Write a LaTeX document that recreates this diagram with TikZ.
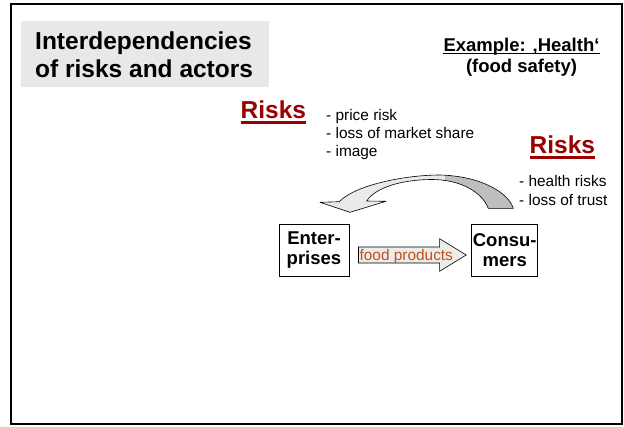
\documentclass[tikz,border=0pt]{standalone}
\usepackage{fontspec}
\setmainfont{Liberation Sans}
\usetikzlibrary{calc}

\definecolor{riskred}{RGB}{153,0,0}
\definecolor{prodbrown}{RGB}{196,80,20}
\definecolor{titlegray}{RGB}{232,232,232}
\definecolor{bandlight}{RGB}{234,234,234}
\definecolor{banddark}{RGB}{190,190,190}

\newcommand{\bandshape}{(513.3,208.3) .. controls (508,192) and (480,176) .. (440,175)
  .. controls (405,175) and (355,185) .. (339.3,201.7) -- (320,202.3) -- (350,212.3)
  -- (386,201.3) -- (366.7,201) .. controls (375,188) and (400,180) .. (430,179.5)
  .. controls (460,179) and (482,192) .. (488.3,208.3) -- cycle}

\tikzset{
  txt/.style={inner sep=0pt, anchor=base west},
  big/.style={font=\fontsize{24.5}{27}\selectfont\bfseries},
  item/.style={txt, font=\fontsize{15.4}{17}\selectfont},
  actor/.style={draw, line width=0.9pt, inner sep=0pt, minimum height=52pt,
    align=center, font=\fontsize{18.5}{20}\selectfont\bfseries},
}

\begin{document}
\begin{tikzpicture}[x=1pt,y=-1pt]
\useasboundingbox (0,0) rectangle (624,426);
\draw[line width=2pt] (11,4) rectangle (622,424);

% title
\fill[titlegray] (21,21) rectangle (269,87);
\node[txt, big] (title1) at (35,49) {Interdependencies};
\node[txt, big] (title2) at (35,77.5) {of risks and actors};

\node[inner sep=0pt, anchor=base, font=\fontsize{18.5}{20}\selectfont\bfseries] (ex1) at (521.5,51.5) {Example: ‚Health‘};
\node[inner sep=0pt, anchor=base, font=\fontsize{18.5}{20}\selectfont\bfseries] (ex2) at (521.5,72.5) {(food safety)};
\draw[line width=1.2pt] ($(ex1.base west)+(0,2.3)$) -- ($(ex1.base east)+(0,2.3)$);

% risks of the enterprises
\node[txt, big, text=riskred] (riskent) at (240.5,118.3) {Risks};
\draw[riskred, line width=2.2pt] ($(riskent.base west)+(0,4.2)$) -- ($(riskent.base east)+(0,4.2)$);
\node[item] (re1) at (326,120.5) {- price risk};
\node[item] (re2) at (326,138.5) {- loss of market share};
\node[item] (re3) at (326,156.5) {- image};

% risks of the consumers
\node[txt, big, text=riskred] (riskcon) at (529.5,153.3) {Risks};
\draw[riskred, line width=2.2pt] ($(riskcon.base west)+(0,4.2)$) -- ($(riskcon.base east)+(0,4.2)$);
\node[item] (rc1) at (519,186.7) {- health risks};
\node[item] (rc2) at (519,205) {- loss of trust};

% actors
\node[actor, minimum width=70pt] (ent) at (314,250.2) {Enter-\\prises};
\node[actor, minimum width=66pt] (con) at (504.7,250.2) {Consu-\\mers};

% flow of products
\coordinate (a0) at ($(ent.east)+(9,4.8)$);
\coordinate (a1) at ($(con.west)+(-5,4.8)$);
\filldraw[fill=gray!15, line width=0.6pt] ($(a0)+(0,-8)$) -- ($(a1)+(-26.7,-8)$)
  -- ($(a1)+(-26.7,-16.3)$) -- (a1) -- ($(a1)+(-26.7,16.3)$) -- ($(a1)+(-26.7,8)$)
  -- ($(a0)+(0,8)$) -- cycle;
\node[item, text=prodbrown] (food) at ($(a0)+(1,5.7)$) {food products};

% risk going back
\fill[bandlight] \bandshape;
\begin{scope}
\clip (445,160) rectangle (530,215);
\fill[banddark] \bandshape;
\end{scope}
\draw[line width=0.6pt, line join=round] \bandshape;
\end{tikzpicture}
\end{document}
